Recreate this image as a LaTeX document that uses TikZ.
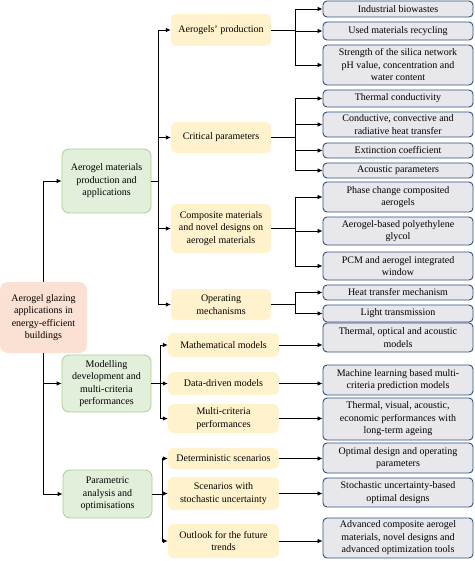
\documentclass[tikz,border=0pt]{standalone}
\usepackage{fontspec}
\setmainfont{Liberation Serif}
\usepackage{tikz}
\usetikzlibrary{calc, arrows.meta}

\definecolor{rootfill}{HTML}{FBE0D4}
\definecolor{greenfill}{HTML}{E2EFDA}
\definecolor{greenline}{HTML}{A9D08E}
\definecolor{yellowfill}{HTML}{FFF2CC}
\definecolor{leaffill}{HTML}{E8E8EC}
\definecolor{leafline}{HTML}{2F4F80}

\begin{document}
\begin{tikzpicture}[x=1pt, y=-1pt,
		font=\fontsize{10}{12.5}\selectfont,
		root/.style={fill=rootfill, rounded corners=8pt, align=center, inner sep=1pt, minimum width=87pt},
		topic/.style={fill=greenfill, draw=greenline, line width=0.8pt, rounded corners=7pt, align=center, inner sep=1pt, minimum width=89pt},
		sub/.style={fill=yellowfill, rounded corners=5pt, align=center, inner sep=1pt},
		leaf/.style={fill=leaffill, draw=leafline, line width=0.9pt, rounded corners=4pt, align=center, inner sep=1pt, minimum width=150pt},
		link/.style={-{Latex[length=5pt, width=4.5pt]}, line width=0.8pt}]
		\useasboundingbox (0,0) rectangle (474,561);

		% root and main topics
		\node [root, minimum height=71pt] (root) at (43.5,317.5) {Aerogel glazing\\applications in\\energy-efficient\\buildings};
		\node [topic, minimum height=64pt] (prod) at (106.5,181) {Aerogel materials\\production and\\applications};
		\node [topic, minimum height=57pt] (model) at (106.5,383.5) {Modelling\\development and\\multi-criteria\\performances};
		\node [topic, minimum height=48pt] (param) at (107.5,494) {Parametric\\analysis and\\optimisations};

		% sub topics
		\begin{scope}[every node/.append style={sub, minimum width=100pt}]
			\node [minimum height=32pt] (aprod) at (221,30) {Aerogels’ production};
			\node [minimum height=31pt] (crit) at (221,137.5) {Critical parameters};
			\node [minimum height=49pt] (comp) at (221,228.5) {Composite materials\\and novel designs on\\aerogel materials};
			\node [minimum height=31pt] (oper) at (221,304.5) {Operating\\mechanisms};
		\end{scope}
		\begin{scope}[every node/.append style={sub, minimum width=111pt}]
			\node [minimum height=24pt] (math) at (223.5,345) {Mathematical models};
			\node [minimum height=23pt] (data) at (223.5,383.5) {Data-driven models};
			\node [minimum height=29pt] (multi) at (223.5,418.5) {Multi-criteria\\performances};
			\node [minimum height=21pt] (det) at (223.5,458.5) {Deterministic scenarios};
			\node [minimum height=33pt] (stoch) at (223.5,493.5) {Scenarios with\\stochastic uncertainty};
			\node [minimum height=34pt] (outl) at (223.5,541) {Outlook for the future\\trends};
		\end{scope}

		% leaves
		\begin{scope}[every node/.append style={leaf}]
			\node [minimum height=16pt] (bio) at (398,9) {Industrial biowastes};
			\node [minimum height=18pt] (recyc) at (398,31) {Used materials recycling};
			\node [minimum height=40pt] (silica) at (398,65) {Strength of the silica network\\pH value, concentration and\\water content};
			\node [minimum height=17pt] (tcond) at (398,98.5) {Thermal conductivity};
			\node [minimum height=25pt] (heat) at (398,124.5) {Conductive, convective and\\radiative heat transfer};
			\node [minimum height=15pt] (ext) at (398,150.5) {Extinction coefficient};
			\node [minimum height=15pt] (acou) at (398,170.5) {Acoustic parameters};
			\node [minimum height=30pt] (pcagel) at (398,197) {Phase change composited\\aerogels};
			\node [minimum height=28pt] (peg) at (398,231) {Aerogel-based polyethylene\\glycol};
			\node [minimum height=28pt] (pcm) at (398,266) {PCM and aerogel integrated\\window};
			\node [minimum height=15pt] (htm) at (398,292.5) {Heat transfer mechanism};
			\node [minimum height=17pt] (light) at (398,313.5) {Light transmission};
			\node [minimum height=29pt] (toa) at (398,337.5) {Thermal, optical and acoustic\\models};
			\node [minimum height=30pt] (ml) at (398,380) {Machine learning based multi-\\criteria prediction models};
			\node [minimum height=42pt] (tvae) at (398,419) {Thermal, visual, acoustic,\\economic performances with\\long-term ageing};
			\node [minimum height=30pt] (optd) at (398,458) {Optimal design and operating\\parameters};
			\node [minimum height=29pt] (sud) at (398,492.5) {Stochastic uncertainty-based\\optimal designs};
			\node [minimum height=40pt] (adv) at (398,538) {Advanced composite aerogel\\materials, novel designs and\\advanced optimization tools};
		\end{scope}

		% connectors
		\begin{scope}[link]
			\draw (root.north) |- (prod.west);
			\draw (root.south) |- (model.west);
			\draw (root.south) |- (param.west);

			\foreach \t in {aprod, crit, comp, oper}
				\draw (prod.east) -- ++(7,0) |- (\t.west);
			\foreach \t in {math, data, multi}
				\draw (model.east) -- ++(9,0) |- (\t.west);
			\foreach \t in {det, stoch, outl}
				\draw (param.east) -- ++(10,0) |- (\t.west);

			\foreach \t in {bio, recyc, silica}
				\draw (aprod.east) -- ++(24,0) |- (\t.west);
			\foreach \t in {tcond, heat, ext, acou}
				\draw (crit.east) -- ++(24,0) |- (\t.west);
			\foreach \t in {pcagel, peg, pcm}
				\draw (comp.east) -- ++(24,0) |- (\t.west);
			\foreach \t in {htm, light}
				\draw (oper.east) -- ++(24,0) |- (\t.west);

			\draw (math.east) -- (math.east -| toa.west);
			\draw (data.east) -- (data.east -| ml.west);
			\draw (multi.east) -- (multi.east -| tvae.west);
			\draw (det.east) -- (det.east -| optd.west);
			\draw (stoch.east) -- (stoch.east -| sud.west);
			\draw (outl.east) -- (outl.east -| adv.west);
		\end{scope}
	\end{tikzpicture}
\end{document}
